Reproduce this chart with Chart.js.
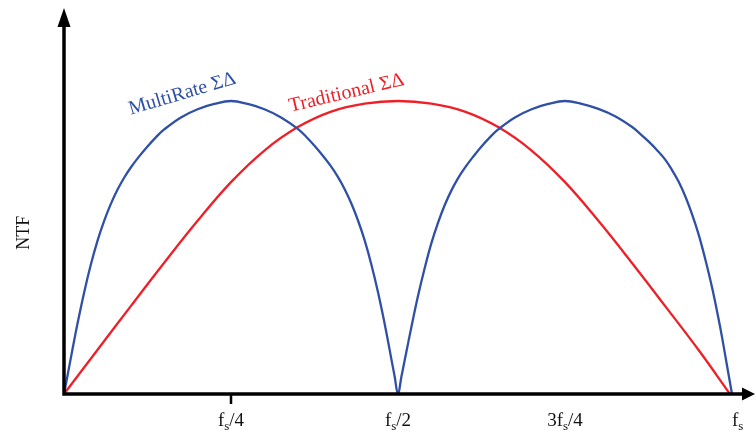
<!DOCTYPE html>
<html>
<head>
<meta charset="utf-8">
<script src="https://cdn.jsdelivr.net/npm/chart.js@4/dist/chart.umd.min.js"></script>
<style>
  html, body { margin: 0; padding: 0; background: #ffffff; }
  #wrap { width: 755px; height: 434px; position: relative; }
</style>
</head>
<body>
<div id="wrap"><canvas id="ntf"></canvas></div>
<script>
// Frequency in units of fs, NTF magnitude normalised to the peak (1.0)
const freqMultiRate = [
  0, 0.005, 0.01, 0.015, 0.02, 0.03, 0.04, 0.05, 0.06, 0.07, 0.08, 0.09, 0.1, 0.1125, 0.125, 0.1375, 0.15, 0.175, 0.2, 0.225, 0.25,
  0.275, 0.3, 0.325, 0.35, 0.3625, 0.375, 0.3875, 0.4, 0.41, 0.42, 0.43, 0.44, 0.45, 0.46, 0.47, 0.48, 0.485, 0.49, 0.495, 0.5,
  0.505, 0.51, 0.515, 0.52, 0.53, 0.54, 0.55, 0.56, 0.57, 0.58, 0.59, 0.6, 0.6125, 0.625, 0.6375, 0.65, 0.675, 0.7, 0.725, 0.75,
  0.775, 0.8, 0.825, 0.85, 0.8625, 0.875, 0.8875, 0.9, 0.91, 0.92, 0.93, 0.94, 0.95, 0.96, 0.97, 0.98, 0.985, 0.99, 0.995, 1.0
];
const ntfMultiRate = [
  0, 0.06, 0.12, 0.18, 0.238, 0.345, 0.44, 0.522, 0.59, 0.648, 0.697, 0.738, 0.773, 0.811, 0.845, 0.876, 0.903, 0.944, 0.972, 0.99, 1.0,
  0.99, 0.972, 0.944, 0.905, 0.878, 0.847, 0.813, 0.776, 0.741, 0.7, 0.651, 0.593, 0.525, 0.443, 0.348, 0.24, 0.181, 0.12, 0.06, 0,
  0.058, 0.115, 0.172, 0.228, 0.335, 0.43, 0.515, 0.585, 0.645, 0.695, 0.737, 0.772, 0.81, 0.845, 0.876, 0.903, 0.944, 0.972, 0.99, 1.0,
  0.99, 0.973, 0.948, 0.912, 0.888, 0.862, 0.833, 0.8, 0.765, 0.725, 0.675, 0.615, 0.545, 0.46, 0.365, 0.255, 0.195, 0.13, 0.065, 0
];

const freqTraditional = [
  0, 0.05, 0.1, 0.15, 0.2, 0.25, 0.3, 0.35, 0.4, 0.45, 0.5,
  0.55, 0.6, 0.65, 0.7, 0.75, 0.8, 0.85, 0.9, 0.95, 0.997
];
const ntfTraditional = [
  0, 0.15, 0.30, 0.448, 0.591, 0.723, 0.831, 0.911, 0.964, 0.991, 1.0,
  0.991, 0.964, 0.911, 0.831, 0.723, 0.591, 0.448, 0.30, 0.15, 0
];

// Frequency axis labels
const tickValues = [0.25, 0.5, 0.75, 1.0];
const tickLabels = [
  [['f', false], ['s', true], ['/4', false]],
  [['f', false], ['s', true], ['/2', false]],
  [['3f', false], ['s', true], ['/4', false]],
  [['f', false], ['s', true]]
];

const seriesNames = ['MultiRate ΣΔ', 'Traditional ΣΔ'];
const yAxisTitle = 'NTF';

const BLUE = '#2f50a4';
const RED = '#ee1f26';
const SERIF = '"Liberation Serif", "Times New Roman", serif';

const toPoints = (xs, ys) => xs.map((x, i) => ({ x: x, y: ys[i] }));

// Draws the arrowed axes, the fs/4 tick, the subscripted frequency labels and the curve captions
const decorations = {
  id: 'decorations',
  afterDatasetsDraw(chart) {
    const { ctx, chartArea, scales } = chart;
    const xs = scales.x, ys = scales.y;
    const x0 = xs.getPixelForValue(0);
    const y0 = ys.getPixelForValue(0);
    ctx.save();

    // axes
    ctx.strokeStyle = '#000';
    ctx.fillStyle = '#000';
    ctx.lineWidth = 3.5;
    ctx.lineCap = 'butt';
    ctx.beginPath();
    ctx.moveTo(x0, y0 + 1.75);
    ctx.lineTo(x0, chartArea.top + 16);
    ctx.moveTo(x0 - 1.75, y0);
    ctx.lineTo(chartArea.right - 10, y0);
    ctx.stroke();

    // arrow heads
    ctx.beginPath();
    ctx.moveTo(x0, chartArea.top);
    ctx.lineTo(x0 - 6.5, chartArea.top + 19);
    ctx.lineTo(x0 + 6.5, chartArea.top + 19);
    ctx.closePath();
    ctx.fill();
    ctx.beginPath();
    ctx.moveTo(chartArea.right, y0);
    ctx.lineTo(chartArea.right - 13, y0 - 6.5);
    ctx.lineTo(chartArea.right - 13, y0 + 6.5);
    ctx.closePath();
    ctx.fill();

    // tick mark at fs/4
    const tx = xs.getPixelForValue(tickValues[0]);
    ctx.lineWidth = 2.5;
    ctx.beginPath();
    ctx.moveTo(tx, y0);
    ctx.lineTo(tx, y0 + 10);
    ctx.stroke();

    // frequency labels with subscript s
    const mainFont = '19px ' + SERIF;
    const subFont = '13px ' + SERIF;
    const baseline = y0 + 32;
    tickValues.forEach((v, i) => {
      const parts = tickLabels[i];
      let w = 0;
      parts.forEach(([t, sub]) => { ctx.font = sub ? subFont : mainFont; w += ctx.measureText(t).width; });
      const px = xs.getPixelForValue(v);
      let cx = (i === tickValues.length - 1) ? px : px - w / 2;
      ctx.fillStyle = '#111';
      ctx.textBaseline = 'alphabetic';
      ctx.textAlign = 'left';
      parts.forEach(([t, sub]) => {
        ctx.font = sub ? subFont : mainFont;
        ctx.fillText(t, cx, sub ? baseline + 4 : baseline);
        cx += ctx.measureText(t).width;
      });
    });

    // vertical axis title
    ctx.save();
    ctx.translate(29, ys.getPixelForValue(0.55));
    ctx.rotate(-Math.PI / 2);
    ctx.font = '18px ' + SERIF;
    ctx.fillStyle = '#111';
    ctx.textAlign = 'center';
    ctx.textBaseline = 'alphabetic';
    ctx.fillText(yAxisTitle, 0, 0);
    ctx.restore();

    // curve captions
    const caption = (text, fx, fy, angleDeg, color) => {
      ctx.save();
      ctx.translate(xs.getPixelForValue(fx), ys.getPixelForValue(fy));
      ctx.rotate(-angleDeg * Math.PI / 180);
      ctx.font = '20px ' + SERIF;
      ctx.fillStyle = color;
      ctx.textAlign = 'left';
      ctx.textBaseline = 'alphabetic';
      ctx.fillText(text, 0, 0);
      ctx.restore();
    };
    caption(seriesNames[0], 0.1, 0.953, 16.5, BLUE);
    caption(seriesNames[1], 0.339, 0.963, 13.3, RED);

    ctx.restore();
  }
};

new Chart(document.getElementById('ntf'), {
  type: 'line',
  data: {
    datasets: [
      {
        label: seriesNames[0],
        data: toPoints(freqMultiRate, ntfMultiRate),
        borderColor: BLUE,
        borderWidth: 2.3,
        pointRadius: 0,
        tension: 0.4,
        fill: false,
        clip: false
      },
      {
        label: seriesNames[1],
        data: toPoints(freqTraditional, ntfTraditional),
        borderColor: RED,
        borderWidth: 2.3,
        pointRadius: 0,
        tension: 0.4,
        fill: false,
        clip: false
      }
    ]
  },
  options: {
    responsive: true,
    maintainAspectRatio: false,
    animation: false,
    layout: { padding: { left: 64, right: 0, top: 8, bottom: 40 } },
    plugins: { legend: { display: false }, tooltip: { enabled: false } },
    scales: {
      x: { type: 'linear', min: 0, max: 691 / 668, display: false },
      y: { type: 'linear', min: 0, max: 386 / 293, display: false }
    }
  },
  plugins: [decorations]
});
</script>
</body>
</html>
